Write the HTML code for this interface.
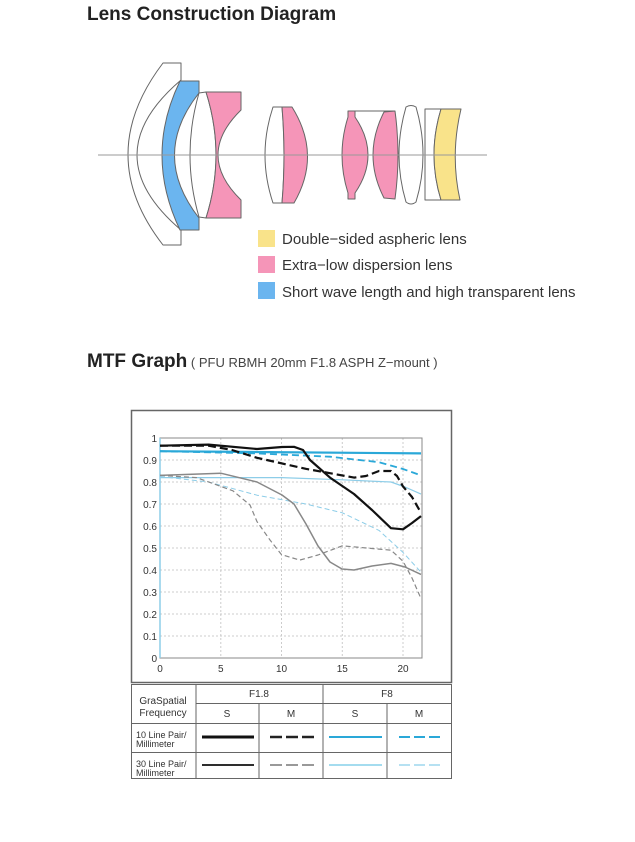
<!DOCTYPE html><html><head><meta charset="utf-8"><style>
body{margin:0;background:#fff;width:635px;height:842px;overflow:hidden;font-family:"Liberation Sans",sans-serif}
</style></head><body>
<svg width="635" height="842" xmlns="http://www.w3.org/2000/svg" style="position:absolute;left:0;top:0">
<text x="87" y="20" font-size="19" font-weight="bold" fill="#222" font-family="Liberation Sans">Lens Construction Diagram</text>
<g stroke="#666" stroke-width="1" stroke-linejoin="round">
<path d="M163,63 L181,63 L181,80 Q93,155 181,230 L181,245 L163,245 Q93,155 163,63 Z" fill="#fff"/>
<path d="M180,81 L199,81 L199,93 Q150,155 199,218 L199,230 L180,230 Q144,155 180,81 Z" fill="#6bb5ef"/>
<path d="M199,93 L206,92 Q226,155 206,218 L199,217 Q181,155 199,93 Z" fill="#fff"/>
<path d="M206,92 L241,92 L241,110 Q195,155 241,200 L241,218 L206,218 Q226,155 206,92 Z" fill="#f595b8"/>
<path d="M273,107 L282,107 Q286,155 282,203 L273,203 Q257,155 273,107 Z" fill="#fff"/>
<path d="M282,107 L292,107 Q322,155 294,203 L282,203 Q286,155 282,107 Z" fill="#f595b8"/>
<path d="M355,111 L395,111" fill="none"/>
<path d="M348,111 L355,111 L355,117 Q381,155 355,193 L355,199 L348,199 L348,193 Q336,155 348,117 Z" fill="#f595b8"/>
<path d="M384,112 L395,111 Q401,155 395,199 L384,198 Q362,155 384,112 Z" fill="#f595b8"/>
<path d="M406,107 Q411,104 416,107 Q430,155 416,202 Q411,206 406,202 Q392,155 406,107 Z" fill="#fff"/>
<path d="M425,109 L441,109 Q427,155 441,200 L425,200 Z" fill="#fff"/>
<path d="M441,109 L461,109 Q450,155 460,200 L441,200 Q427,155 441,109 Z" fill="#f9e38a"/>
</g>
<line x1="98" y1="155" x2="487" y2="155" stroke="#999" stroke-width="1"/>
<rect x="258" y="230" width="17" height="17" fill="#f9e38a"/>
<rect x="258" y="256" width="17" height="17" fill="#f595b8"/>
<rect x="258" y="282" width="17" height="17" fill="#6bb5ef"/>
<g font-size="15" fill="#333" font-family="Liberation Sans">
<text x="282" y="244">Double−sided aspheric lens</text>
<text x="282" y="270">Extra−low dispersion lens</text>
<text x="282" y="297">Short wave length and high transparent lens</text>
</g>
<text x="87" y="367" font-size="19" font-weight="bold" fill="#222">MTF Graph<tspan font-size="13" font-weight="normal" fill="#444"> ( PFU RBMH 20mm F1.8 ASPH  Z−mount )</tspan></text>
<rect x="131.5" y="410.5" width="320" height="272" fill="#fff" stroke="#666" stroke-width="1.5"/>
<g stroke="#ccc" stroke-dasharray="2,2" stroke-width="1">
<line x1="160" y1="636" x2="422" y2="636"/><line x1="160" y1="614" x2="422" y2="614"/><line x1="160" y1="592" x2="422" y2="592"/><line x1="160" y1="570" x2="422" y2="570"/><line x1="160" y1="548" x2="422" y2="548"/><line x1="160" y1="526" x2="422" y2="526"/><line x1="160" y1="504" x2="422" y2="504"/><line x1="160" y1="482" x2="422" y2="482"/><line x1="160" y1="460" x2="422" y2="460"/>
<line x1="220.8" y1="438" x2="220.8" y2="658"/><line x1="281.5" y1="438" x2="281.5" y2="658"/><line x1="342.3" y1="438" x2="342.3" y2="658"/><line x1="403" y1="438" x2="403" y2="658"/>
</g>
<rect x="160" y="438" width="262" height="220" fill="none" stroke="#888" stroke-width="1"/>
<line x1="160" y1="438" x2="160" y2="658" stroke="#8dcde8" stroke-width="1.5"/>
<g font-size="10" fill="#333" text-anchor="end">
<text x="157" y="662">0</text><text x="157" y="640">0.1</text><text x="157" y="618">0.2</text><text x="157" y="596">0.3</text><text x="157" y="574">0.4</text><text x="157" y="552">0.5</text><text x="157" y="530">0.6</text><text x="157" y="508">0.7</text><text x="157" y="486">0.8</text><text x="157" y="464">0.9</text><text x="157" y="442">1</text>
</g>
<g font-size="10" fill="#333" text-anchor="middle">
<text x="160" y="672">0</text><text x="220.8" y="672">5</text><text x="281.5" y="672">10</text><text x="342.3" y="672">15</text><text x="403" y="672">20</text>
</g>
<g fill="none" stroke-linejoin="round">
<polyline stroke="#2aa8d8" stroke-width="2.2" points="160,451.2 421,453.4"/>
<polyline stroke="#2aa8d8" stroke-width="1.8" stroke-dasharray="7,4" points="160,451.2 257,453.4 330,456.7 379,462.2 403,469 421,475.4"/>
<polyline stroke="#8dcde8" stroke-width="1.2" points="160,477.6 281.5,477.6 342.3,479.8 391,482 405,487 421,494.1"/>
<polyline stroke="#8dcde8" stroke-width="1" stroke-dasharray="5,3" points="160,476.5 208.6,482 257,495.2 305.8,504 342.3,512.8 379,530.4 403,552.4 421,572.2"/>
<polyline stroke="#888" stroke-width="1.5" points="160,475.4 220.8,473.2 257,482 282,495 294,504 306,524 318,546 330,562 342,569 354,570 372,566 391,563.4 405,567 421,574.4"/>
<polyline stroke="#888" stroke-width="1.2" stroke-dasharray="5,3" points="160,475.4 196.5,477.6 232.9,490.8 250,505 257,521.6 270,540 281.5,554.6 299.7,560.1 318,555 342.3,545.8 366.6,548 391,550.2 403,561.2 412,578 421,598.6"/>
<polyline stroke="#111" stroke-width="2.2" stroke-dasharray="8,4" points="160,445.7 208.6,445.7 232,450 257,457.8 305.8,468.8 330,473.2 354,477.6 366,476 379,471 391,471 397,476 403,486.4 412,497 421,512.8"/>
<polyline stroke="#111" stroke-width="2.2" points="160,445.7 208.6,444.6 257,449 282,447 294,446.8 303,450 310,460 330,477.6 354,494 372,510 391,528.2 403,529.3 412,523 421,516.1"/>
</g>
<g stroke="#666" stroke-width="1" fill="none">
<rect x="131.5" y="684.5" width="320" height="94"/>
<line x1="196" y1="684.5" x2="196" y2="778.5"/>
<line x1="323" y1="684.5" x2="323" y2="778.5"/>
<line x1="196" y1="703.5" x2="451.5" y2="703.5"/>
<line x1="131.5" y1="723.5" x2="451.5" y2="723.5"/>
<line x1="131.5" y1="752.5" x2="451.5" y2="752.5"/>
<line x1="259" y1="703.5" x2="259" y2="778.5"/>
<line x1="387" y1="703.5" x2="387" y2="778.5"/>
</g>
<g font-size="10" fill="#333" text-anchor="middle">
<text x="163" y="704">GraSpatial</text><text x="163" y="716">Frequency</text>
<text x="259" y="697">F1.8</text><text x="387" y="697">F8</text>
<text x="227" y="717">S</text><text x="291" y="717">M</text><text x="355" y="717">S</text><text x="419" y="717">M</text>
</g>
<g font-size="9" fill="#333">
<text x="136" y="738">10 Line Pair/</text><text x="136" y="747">Millimeter</text>
<text x="136" y="767">30 Line Pair/</text><text x="136" y="776">Millimeter</text>
</g>
<line x1="202" y1="737" x2="254" y2="737" stroke="#111" stroke-width="3"/>
<line x1="270" y1="737" x2="315" y2="737" stroke="#222" stroke-width="2.5" stroke-dasharray="12,4"/>
<line x1="329" y1="737" x2="382" y2="737" stroke="#2aa8d8" stroke-width="2"/>
<line x1="399" y1="737" x2="443" y2="737" stroke="#2aa8d8" stroke-width="2" stroke-dasharray="11,4"/>
<line x1="202" y1="765" x2="254" y2="765" stroke="#111" stroke-width="1.8"/>
<line x1="270" y1="765" x2="315" y2="765" stroke="#333" stroke-width="1" stroke-dasharray="12,4"/>
<line x1="329" y1="765" x2="382" y2="765" stroke="#4ab8df" stroke-width="1"/>
<line x1="399" y1="765" x2="443" y2="765" stroke="#6cc3e5" stroke-width="1" stroke-dasharray="11,4"/>
</svg>
</body></html>
